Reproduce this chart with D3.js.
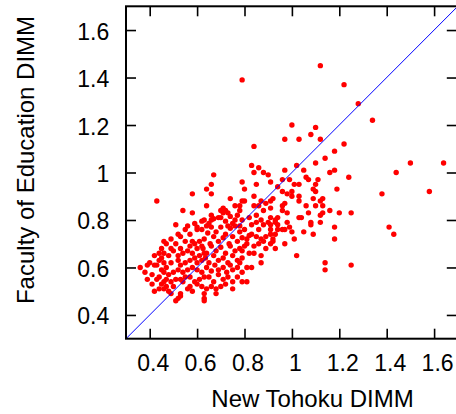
<!DOCTYPE html>
<html>
<head>
<meta charset="utf-8">
<script src="https://cdn.jsdelivr.net/npm/d3@7/dist/d3.min.js"></script>
<style>
  body { margin: 0; background: #fff; }
  svg { display: block; font-family: "Liberation Sans", Arial, sans-serif; }
  .tick text { font-size: 23px; fill: #000; }
  .axis-label { font-size: 24px; fill: #000; }
</style>
</head>
<body>
<svg id="chart" width="456" height="414"></svg>
<script>
// DATA: ticks shared by both axes, and [New Tohoku, Faculty of Education] pairs
const axisDomain = [0.3, 1.7];
const xTicks = [0.4, 0.6, 0.8, 1.0, 1.2, 1.4, 1.6];
const yTicks = [0.4, 0.6, 0.8, 1.0, 1.2, 1.4, 1.6];

// sparse points, upper / right part of the cloud
const sparsePairs = [
  [1.12,1.45],[0.79,1.39],[1.22,1.37],[1.28,1.29],[1.34,1.22],[1.00,1.20],[1.10,1.19],[0.84,1.11],
  [0.97,1.14],[1.03,1.14],[1.08,1.16],[1.12,1.14],[1.22,1.12],[1.18,1.09],[1.14,1.06],[1.10,1.04],
  [1.02,1.03],[0.83,1.03],[0.86,1.02],[0.84,1.00],[0.88,1.00],[0.90,0.99],[0.97,1.01],[1.05,1.01],
  [1.06,0.98],[1.07,0.97],[1.11,0.97],[1.10,0.95],[1.09,0.93],[1.10,0.92],[1.16,1.00],[1.18,1.01],
  [1.24,0.98],[1.19,0.93],[0.79,0.96],[0.80,0.93],[0.85,0.95],[0.91,0.96],[0.96,0.97],[0.99,0.97],
  [1.01,0.95],[1.03,0.95],[0.94,0.94],[0.96,0.92],[0.98,0.91],[1.00,0.92],[1.00,0.90],[1.03,0.90],
  [0.74,0.89],[0.76,0.86],[0.78,0.86],[0.79,0.88],[0.84,0.90],[0.87,0.88],[0.89,0.87],[0.91,0.88],
  [0.92,0.89],[1.03,0.88],[1.09,0.89],[1.13,0.89],[1.38,0.91],[1.44,1.00],[1.50,1.04],[1.64,1.04],
  [1.58,0.92]
];

// right-hand points below the diagonal
const rightPairs = [
  [1.41,0.77],[1.43,0.74],[1.25,0.83],[1.20,0.83],[1.18,0.77],[1.18,0.72],[1.25,0.61],[1.14,0.62],
  [1.14,0.59],[1.02,0.65],[1.13,0.83],[1.09,0.74],[1.05,0.75],[1.08,0.78],[1.01,0.72],[1.07,0.83],
  [1.03,0.81],[1.04,0.81],[0.97,0.70],[0.93,0.68],[0.89,0.68],[1.00,0.75],[0.92,0.71],[0.93,0.74],
  [1.12,0.88],[1.13,0.86],[1.10,0.86],[1.06,0.86],[1.16,0.84],[1.12,0.82],[0.97,0.87],[0.96,0.86],
  [0.96,0.84],[0.98,0.83],[0.94,0.81],[0.93,0.80],[0.91,0.81],[1.08,0.79],[1.12,0.79],
  [0.93,0.79],[0.94,0.78],[0.91,0.78],[0.94,0.76],[0.96,0.76],[0.97,0.76],[0.99,0.77],[0.98,0.79]
];

// middle of the cloud, x around 0.75-0.92
const midPairs = [
  [0.83,0.78],[0.85,0.79],[0.86,0.76],[0.88,0.78],[0.90,0.79],[0.91,0.76],
  [0.83,0.74],[0.85,0.73],[0.87,0.72],[0.89,0.73],[0.91,0.74],[0.92,0.72],
  [0.81,0.70],[0.84,0.69],[0.86,0.70],[0.88,0.71],[0.91,0.70],
  [0.79,0.67],[0.82,0.66],[0.84,0.66],[0.87,0.65],[0.87,0.62],
  [0.83,0.60],[0.81,0.60],[0.79,0.58],[0.75,0.59],[0.79,0.54],[0.81,0.54],[0.75,0.51],
  [0.70,0.52],[0.68,0.51],[0.63,0.47],[0.63,0.46],[0.62,0.52],[0.64,0.51],
  [0.67,0.99],[0.66,0.95],[0.66,0.91],[0.80,0.88],[0.78,0.84],[0.71,0.85],[0.72,0.84],
  [0.71,0.83],[0.73,0.83],[0.66,0.80],[0.65,0.785],[0.63,0.80],[0.69,0.81],[0.72,0.795],
  [0.74,0.815],[0.75,0.785],[0.77,0.82],[0.79,0.80],[0.84,0.86],[0.86,0.86],[0.85,0.82],
  [0.88,0.84],[0.91,0.85],[0.64,0.775],[0.67,0.805],[0.70,0.81],[0.73,0.775],[0.76,0.80],
  [0.78,0.775],[0.82,0.81],[0.87,0.80]
];

// dense core, x around 0.62-0.82
const corePairs = [
  [0.62,0.76],[0.645,0.745],[0.66,0.77],[0.68,0.75],[0.70,0.77],[0.72,0.74],[0.74,0.765],[0.76,0.775],
  [0.78,0.75],[0.80,0.76],[0.82,0.735],[0.63,0.72],[0.655,0.70],[0.67,0.73],[0.69,0.71],[0.71,0.725],
  [0.735,0.70],[0.75,0.73],[0.77,0.71],[0.79,0.725],[0.81,0.72],[0.625,0.68],[0.64,0.66],[0.66,0.69],
  [0.68,0.67],[0.70,0.685],[0.72,0.66],[0.74,0.69],[0.76,0.67],[0.78,0.68],[0.80,0.69],[0.635,0.64],
  [0.65,0.62],[0.67,0.65],[0.69,0.63],[0.71,0.64],[0.73,0.62],[0.75,0.65],[0.77,0.63],[0.79,0.64],
  [0.64,0.60],[0.66,0.585],[0.675,0.61],[0.69,0.59],[0.71,0.60],[0.725,0.58],[0.74,0.61],[0.77,0.60],
  [0.78,0.62],[0.65,0.56],[0.67,0.54],[0.69,0.57],[0.71,0.55],[0.73,0.56],[0.75,0.54],[0.77,0.56],
  [0.66,0.52],[0.72,0.53],[0.68,0.49]
];

// left part of the cloud, x below 0.63
const leftPairs = [
  [0.51,0.78],[0.56,0.775],[0.55,0.76],[0.59,0.785],[0.62,0.795],[0.60,0.76],[0.52,0.74],[0.53,0.73],
  [0.46,0.71],[0.58,0.71],[0.59,0.70],[0.57,0.69],[0.61,0.71],[0.62,0.69],[0.49,0.68],[0.50,0.67],
  [0.54,0.66],[0.56,0.67],[0.46,0.66],[0.45,0.64],[0.44,0.63],[0.43,0.61],[0.42,0.61],[0.36,0.60],
  [0.46,0.62],[0.47,0.60],[0.49,0.62],[0.52,0.63],[0.53,0.61],[0.55,0.62],[0.57,0.63],[0.59,0.64],
  [0.60,0.62],[0.61,0.65],[0.63,0.66],[0.62,0.63],[0.45,0.59],[0.46,0.58],[0.48,0.57],[0.50,0.58],
  [0.52,0.59],[0.54,0.58],[0.56,0.59],[0.58,0.60],[0.60,0.59],[0.62,0.58],[0.44,0.56],[0.46,0.54],
  [0.47,0.55],[0.49,0.54],[0.51,0.55],[0.53,0.55],[0.55,0.56],[0.57,0.56],[0.59,0.54],[0.61,0.55],
  [0.63,0.56],[0.45,0.53],[0.46,0.51],[0.48,0.50],[0.50,0.52],[0.54,0.54],[0.56,0.51],[0.57,0.52],
  [0.60,0.53],[0.42,0.50],[0.49,0.49],[0.52,0.47],[0.53,0.49],[0.58,0.50],[0.63,0.49],
  [0.43,0.88],[0.54,0.84],[0.58,0.83],[0.66,0.82],[0.70,0.84],[0.58,0.91],[0.64,0.93],[0.64,0.86],
  [0.60,0.77],[0.51,0.46],[0.53,0.48],[0.47,0.52],
  [0.47,0.70],[0.49,0.72],[0.51,0.70],[0.53,0.68],[0.55,0.71],[0.57,0.74],[0.48,0.65],[0.52,0.65],
  [0.58,0.66],[0.60,0.68],[0.44,0.66],[0.40,0.62],[0.41,0.57],[0.43,0.55],[0.38,0.58],[0.39,0.55],
  [0.41,0.53],[0.44,0.51],[0.42,0.65],[0.45,0.68],[0.39,0.61]
];

const allPairs = [].concat(sparsePairs, rightPairs, midPairs, corePairs, leftPairs);

// SETUP
const plot = { left: 126, right: 457.8, top: 6.3, bottom: 338.7 };
const svg = d3.select("#chart");

const x = d3.scaleLinear().domain(axisDomain).range([plot.left, plot.right]);
const y = d3.scaleLinear().domain(axisDomain).range([plot.bottom, plot.top]);
const fmt = d3.format("~g");

svg.append("clipPath").attr("id", "clip")
  .append("rect")
  .attr("x", plot.left).attr("y", plot.top)
  .attr("width", plot.right - plot.left).attr("height", plot.bottom - plot.top);

// POINTS
svg.append("g")
  .attr("clip-path", "url(#clip)")
  .selectAll("circle")
  .data(allPairs)
  .join("circle")
  .attr("cx", d => x(d[0]))
  .attr("cy", d => y(d[1]))
  .attr("r", 2.7)
  .attr("fill", "#ff0000");

// y = x reference line
svg.append("line")
  .attr("x1", x(axisDomain[0])).attr("y1", y(axisDomain[0]))
  .attr("x2", x(axisDomain[1])).attr("y2", y(axisDomain[1]))
  .attr("stroke", "#0000ff")
  .attr("stroke-width", 1);

// AXES (ticks point inward on all four sides)
const styleAxis = g => {
  g.select(".domain").remove();
  g.selectAll(".tick line").attr("stroke", "#000").attr("stroke-width", 1.6);
};

svg.append("g")
  .attr("transform", `translate(0,${plot.bottom})`)
  .call(d3.axisBottom(x).tickValues(xTicks).tickSize(-10).tickFormat(fmt))
  .call(styleAxis)
  .call(g => g.selectAll(".tick text").attr("y", 32.7).attr("dy", 0).attr("dx", 3));

svg.append("g")
  .attr("transform", `translate(${plot.left},0)`)
  .call(d3.axisLeft(y).tickValues(yTicks).tickSize(-10).tickFormat(fmt))
  .call(styleAxis)
  .call(g => g.selectAll(".tick text").attr("x", -16.7).attr("dy", 9));

svg.append("g")
  .attr("transform", `translate(0,${plot.top})`)
  .call(d3.axisTop(x).tickValues(xTicks).tickSize(-10).tickFormat(""))
  .call(styleAxis);

svg.append("g")
  .attr("transform", `translate(${plot.right},0)`)
  .call(d3.axisRight(y).tickValues(yTicks).tickSize(-11).tickFormat(""))
  .call(styleAxis);

// frame
svg.append("rect")
  .attr("x", plot.left).attr("y", plot.top)
  .attr("width", plot.right - plot.left).attr("height", plot.bottom - plot.top)
  .attr("fill", "none")
  .attr("stroke", "#000")
  .attr("stroke-width", 2);

// LABELS
svg.append("text")
  .attr("class", "axis-label")
  .attr("text-anchor", "middle")
  .attr("x", 312.5)
  .attr("y", 407)
  .text("New Tohoku DIMM");

svg.append("text")
  .attr("class", "axis-label")
  .attr("text-anchor", "middle")
  .attr("transform", "translate(33.5,160) rotate(-90)")
  .text("Faculty of Education DIMM");
</script>
</body>
</html>
